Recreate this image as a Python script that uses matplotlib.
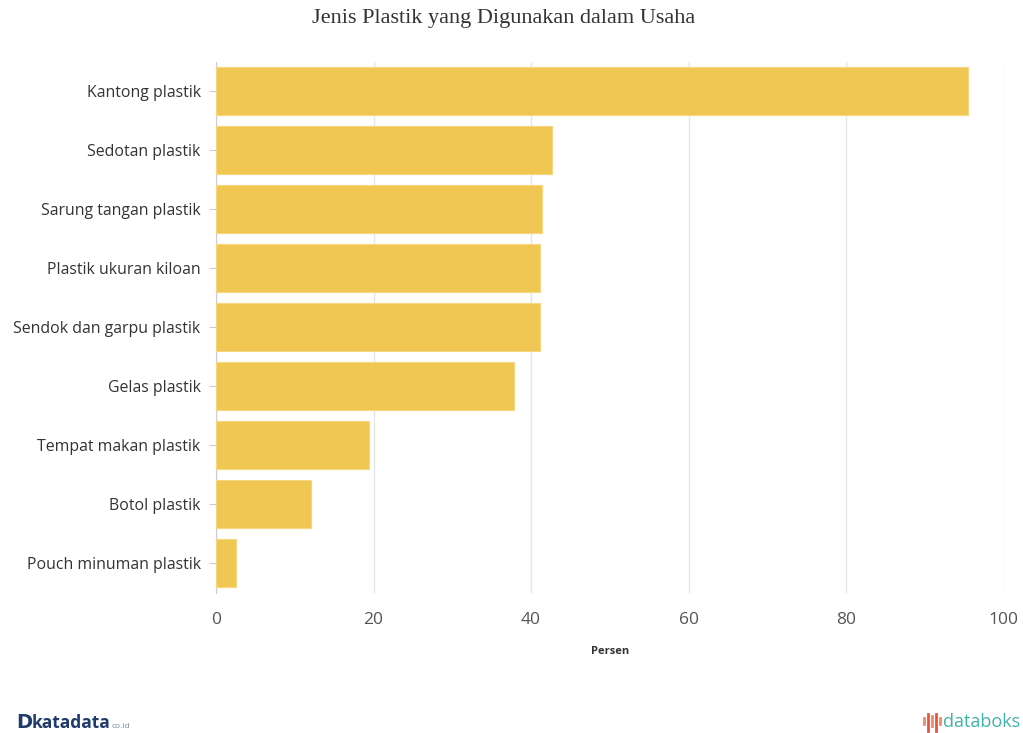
import matplotlib
matplotlib.use("Agg")
import matplotlib.pyplot as plt
from matplotlib.lines import Line2D

categories = ["Kantong plastik", "Sedotan plastik", "Sarung tangan plastik",
              "Plastik ukuran kiloan", "Sendok dan garpu plastik", "Gelas plastik",
              "Tempat makan plastik", "Botol plastik", "Pouch minuman plastik"]
values = [95.5, 42.7, 41.4, 41.2, 41.1, 37.8, 19.4, 12.1, 2.6]
xticks = [0, 20, 40, 60, 80, 100]

fig = plt.figure(figsize=(10.23, 7.33), dpi=100)
ax = fig.add_axes([216/1023, 140.5/733, 787.5/1023, 531/733])

ypos = list(range(len(categories)))
ax.barh(ypos, values, height=0.81, color="#F0C753", edgecolor="#F5D77F",
        linewidth=0.8, zorder=3)
ax.set_ylim(len(categories) - 0.5, -0.5)
ax.set_xlim(0, 100)
ax.set_yticks(ypos)
ax.set_yticklabels(categories, fontsize=11.4, color="#333333", family="Open Sans")
ax.set_xticks(xticks)
ax.set_xticklabels([str(t) for t in xticks], fontsize=12.5, color="#555555", family="Open Sans")
ax.tick_params(axis="y", length=5, color="#cccccc", pad=6)
ax.tick_params(axis="x", length=0, pad=14)
ax.grid(axis="x", color="#e6e6e6", linewidth=1, zorder=0)
for s in ["top", "right", "bottom"]:
    ax.spines[s].set_visible(False)
ax.spines["left"].set_color("#cccccc")
ax.set_xlabel("Persen", fontsize=8, fontweight="bold", color="#333333",
              family="Open Sans", labelpad=13)

fig.text(504/1023, 1 - 18/733, "Jenis Plastik yang Digunakan dalam Usaha",
         ha="center", va="center", fontsize=16, family="Liberation Serif", color="#333333")

# katadata logo
fig.text(16/1023, 1 - 723/733, "D", fontsize=14, fontweight="bold", color="#1f3a6b",
         family="DejaVu Sans", va="center", ha="left")
fig.text(32/1023, 1 - 723/733, "katadata", fontsize=12.5, fontweight="bold", color="#1f3a6b",
         family="Open Sans", va="center", ha="left")
fig.text(112/1023, 1 - 726/733, "co.id", fontsize=6, color="#7a8aa8",
         family="Open Sans", va="center", ha="left")

# databoks logo
icon_x = [924, 928, 932, 936, 940]
icon_h = [(718, 724), (714, 731), (716, 726), (714, 731), (718, 724)]
icon_c = ["#f08a6a", "#e8553d", "#f08a6a", "#e8553d", "#f08a6a"]
for x, (y0, y1), c in zip(icon_x, icon_h, icon_c):
    fig.add_artist(Line2D([x/1023, x/1023], [1 - y0/733, 1 - y1/733],
                          color=c, linewidth=2, transform=fig.transFigure))
fig.text(943/1023, 1 - 722/733, "databoks", fontsize=13, color="#3fb3a8",
         family="Open Sans", va="center", ha="left")

fig.savefig("out.png", dpi=100)
